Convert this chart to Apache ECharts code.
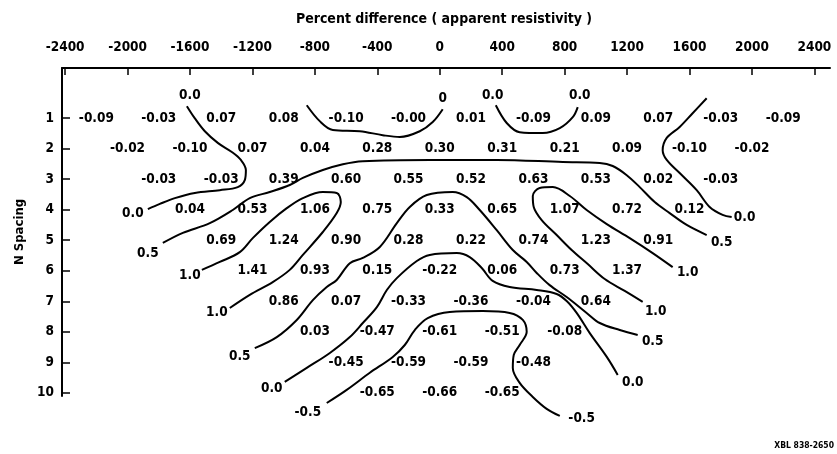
<!DOCTYPE html>
<html><head><meta charset="utf-8">
<script src="https://cdn.jsdelivr.net/npm/echarts@6/dist/echarts.min.js"></script>
<style>html,body{margin:0;padding:0;background:#fff}#c{width:837px;height:454px}</style>
</head><body><div id="c"></div>
<script>
// ---- axes ----
const xTicks = [-2400,-2000,-1600,-1200,-800,-400,0,400,800,1200,1600,2000,2400];
const nSpacing = [1,2,3,4,5,6,7,8,9,10];
// first station (ft) of each N-spacing row, stations every 400 ft
const rowStart = [-2200,-2000,-1800,-1600,-1400,-1200,-1000,-800,-600,-400];
const stationStep = 400;

// ---- percent difference values, row by row ----
const row1 = [-0.09,-0.03,0.07,0.08,-0.10,-0.00,0.01,-0.09,0.09,0.07,-0.03,-0.09];
const row2 = [-0.02,-0.10,0.07,0.04,0.28,0.30,0.31,0.21,0.09,-0.10,-0.02];
const row3 = [-0.03,-0.03,0.39,0.60,0.55,0.52,0.63,0.53,0.02,-0.03];
const row4 = [0.04,0.53,1.06,0.75,0.33,0.65,1.07,0.72,0.12];
const row5 = [0.69,1.24,0.90,0.28,0.22,0.74,1.23,0.91];
const row6 = [1.41,0.93,0.15,-0.22,0.06,0.73,1.37];
const row7 = [0.86,0.07,-0.33,-0.36,-0.04,0.64];
const row8 = [0.03,-0.47,-0.61,-0.51,-0.08];
const row9 = [-0.45,-0.59,-0.59,-0.48];
const row10 = [-0.65,-0.66,-0.65];

// ---- contour lines (x ft, N spacing) ----
const c00TopLeft = [[-1620,0.61],[-1570,1.0],[-1505,1.43],[-1420,1.82],[-1332,2.11],[-1274,2.37],[-1242,2.70],[-1249,3.03],[-1294,3.26],[-1409,3.36],[-1569,3.45],[-1697,3.62],[-1793,3.81],[-1870,3.98]];
const c00TopMid = [[-852,0.58],[-769,1.10],[-685,1.39],[-512,1.43],[-365,1.56],[-256,1.62],[-128,1.43],[-45,1.13],[19,0.71]];
const c00TopRightU = [[359,0.58],[429,1.16],[512,1.46],[660,1.49],[769,1.33],[852,0.97],[884,0.64]];
const c00Right = [[1710,0.35],[1620,0.84],[1537,1.29],[1454,1.65],[1428,2.05],[1454,2.37],[1537,2.80],[1646,3.36],[1729,3.91],[1812,4.17],[1870,4.24]];
const c05Top = [[-1774,5.09],[-1646,4.76],[-1473,4.44],[-1326,4.01],[-1217,3.62],[-1089,3.42],[-961,3.19],[-877,2.96],[-749,2.70],[-621,2.51],[-493,2.41],[-64,2.37],[365,2.37],[788,2.44],[1025,2.47],[1108,2.57],[1198,2.87],[1281,3.26],[1377,3.75],[1473,4.11],[1582,4.50],[1710,4.83]];
const c10Left = [[-1524,5.97],[-1409,5.71],[-1281,5.39],[-1198,4.93],[-1089,4.40],[-980,3.95],[-877,3.62],[-749,3.42],[-660,3.45],[-634,3.75],[-660,4.11],[-749,4.73],[-877,5.48],[-961,5.97],[-1070,6.37],[-1217,6.79],[-1345,7.22]];
const c05Mid = [[-1185,8.53],[-1044,8.17],[-916,7.61],[-813,6.96],[-724,6.53],[-660,6.30],[-576,5.75],[-493,5.58],[-384,5.22],[-275,4.44],[-192,3.91],[-83,3.52],[83,3.42],[173,3.59],[256,4.01],[365,4.67],[468,5.32],[557,5.71],[621,6.07],[704,6.47],[813,6.86],[941,7.38],[1025,7.71],[1153,7.94],[1268,8.10]];
const c00Mid = [[-993,9.64],[-852,9.18],[-704,8.69],[-576,8.17],[-493,7.71],[-403,7.19],[-339,6.63],[-275,6.24],[-147,5.68],[-64,5.48],[109,5.42],[192,5.55],[269,5.91],[339,6.33],[448,6.53],[621,6.63],[749,6.76],[813,6.99],[877,7.38],[961,8.04],[1070,8.82],[1140,9.41]];
const c05Bottom = [[-724,10.33],[-596,9.90],[-448,9.34],[-301,8.82],[-224,8.43],[-160,7.94],[-77,7.55],[64,7.35],[275,7.32],[448,7.38],[532,7.61],[557,8.00],[512,8.43],[474,8.76],[468,9.18],[512,9.67],[596,10.13],[685,10.52],[769,10.75]];
const c10Right = [[1492,5.88],[1364,5.42],[1217,4.93],[1070,4.47],[941,4.01],[833,3.55],[724,3.26],[640,3.29],[596,3.55],[602,3.91],[653,4.34],[749,4.83],[845,5.32],[948,5.78],[1057,6.27],[1185,6.66],[1300,7.02]];

// ---- contour level labels ----
const levelText = ['0.0','0.0','0','0.0','0.0','0.0','0.5','0.5','1.0','1.0','0.5','0.0','-0.5','1.0','1.0','0.5','0.0','-0.5'];
const levelPos = [[-1601,0.25],[-1966,4.14],[19,0.35],[339,0.25],[897,0.25],[1953,4.27],[-1870,5.42],[1806,5.06],[-1601,6.17],[-1428,7.35],[-1281,8.82],[-1076,9.84],[-845,10.65],[1588,6.07],[1383,7.32],[1364,8.33],[1236,9.67],[909,10.85]];

const rows = [row1,row2,row3,row4,row5,row6,row7,row8,row9,row10];
const valueData = [];
rows.forEach((r,i)=>r.forEach((v,k)=>valueData.push({value:[rowStart[i]+stationStep*k, nSpacing[i]], txt:(Object.is(v,-0) ? '-0.00' : v.toFixed(2))})));
const levelData = levelPos.map((p,i)=>({value:[p[0],p[1]], txt:levelText[i]}));
const contours = [c00TopLeft,c00TopMid,c00TopRightU,c00Right,c05Top,c10Left,c05Mid,c00Mid,c05Bottom,c10Right];

const FONT = '"DejaVu Sans Condensed", "DejaVu Sans"';

const series = contours.map((c,i)=>({
  type:'line', name:'contour'+i, data:c, smooth:0.35, symbol:'none', showSymbol:false,
  lineStyle:{color:'#000', width:2}, clip:false, silent:true, z:2
}));
const labelSeries = (data) => ({
  type:'scatter', data:data, symbolSize:2, itemStyle:{color:'rgba(0,0,0,0)'}, clip:false, silent:true, z:3,
  label:{show:true, position:'inside', color:'#000', opacity:1, textBorderWidth:0, textShadowBlur:0,
    fontFamily:FONT, fontWeight:'bold', fontSize:13.5, formatter:p=>p.data.txt}
});
series.push(labelSeries(valueData));
series.push(labelSeries(levelData));

const chart = echarts.init(document.getElementById('c'), null, {renderer:'canvas'});
chart.setOption({
  animation:false,
  backgroundColor:'#fff',
  grid:{left:62, right:7, top:68, bottom:58, containLabel:false, outerBoundsMode:'none'},
  xAxis:{
    type:'value', position:'top', min:-2420, max:2500,
    axisLine:{show:true, onZero:false, lineStyle:{color:'#000', width:2}},
    axisTick:{show:true, inside:true, length:7, lineStyle:{color:'#000', width:1.5}, customValues:xTicks},
    axisLabel:{show:true, margin:14, color:'#000', fontFamily:FONT, fontWeight:'bold', fontSize:13.5, customValues:xTicks,
      formatter:v=>String(v)},
    splitLine:{show:false}
  },
  yAxis:{
    type:'value', inverse:true, min:-0.64, max:10.1,
    name:'N Spacing', nameLocation:'middle', nameRotate:90, nameGap:36,
    nameTextStyle:{color:'#000', fontFamily:FONT, fontWeight:'bold', fontSize:13},
    axisLine:{show:true, onZero:false, lineStyle:{color:'#000', width:2}},
    axisTick:{show:true, inside:true, length:8, lineStyle:{color:'#000', width:1.5}, customValues:nSpacing},
    axisLabel:{show:true, margin:8, color:'#000', fontFamily:FONT, fontWeight:'bold', fontSize:13.5, customValues:nSpacing,
      formatter:v=>String(v)},
    splitLine:{show:false}
  },
  graphic:[
    {type:'text', x:444, y:12, style:{text:'Percent difference ( apparent resistivity )', fill:'#000', align:'center',
      font:'bold 14px "DejaVu Sans Condensed", "DejaVu Sans"'}},
    {type:'text', right:3, top:441, style:{text:'XBL 838-2650', fill:'#000', font:'bold 8.5px "DejaVu Sans Condensed", "DejaVu Sans"'}}
  ],
  series:series
});
</script></body></html>
